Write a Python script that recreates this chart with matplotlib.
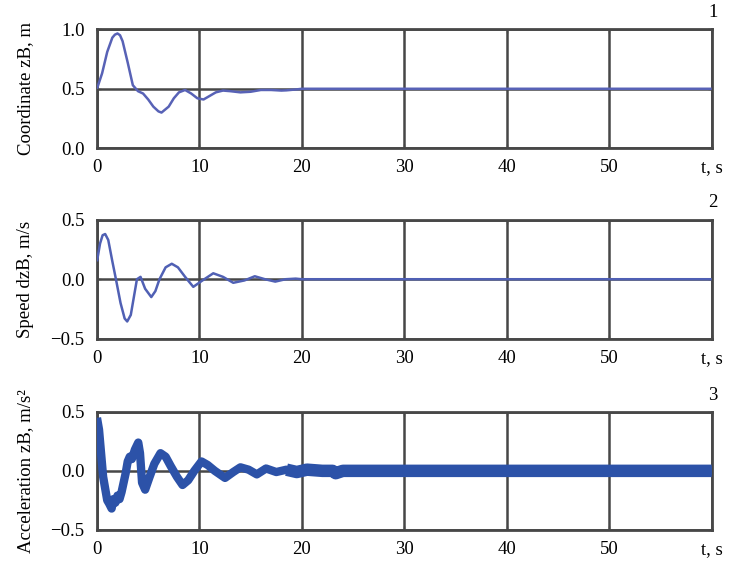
import matplotlib.pyplot as plt

plt.rcParams['font.family'] = ['Liberation Serif', 'DejaVu Serif']

# Coordinate zB (panel 1)
t1 = [0, 0.5, 1.0, 1.5, 1.75, 2.0, 2.25, 2.5, 3.0, 3.5, 4.0, 4.5, 5.0, 5.5, 6.0, 6.3,
      7.0, 7.5, 8.0, 8.6, 9.2, 9.8, 10.4, 11.0, 11.6, 12.3, 13.0, 14.0, 15.0, 16.0,
      17.0, 18.0, 18.5, 19.5, 20.0, 60.0]
z1 = [0.50, 0.63, 0.81, 0.93, 0.955, 0.965, 0.95, 0.90, 0.72, 0.53, 0.48, 0.46, 0.41,
      0.35, 0.31, 0.30, 0.35, 0.42, 0.47, 0.49, 0.46, 0.42, 0.41, 0.44, 0.47, 0.485,
      0.48, 0.47, 0.475, 0.49, 0.49, 0.485, 0.487, 0.495, 0.50, 0.50]

# Speed dzB (panel 2)
t2 = [0, 0.3, 0.55, 0.8, 1.1, 1.5, 1.85, 2.3, 2.7, 2.95, 3.3, 3.9, 4.25, 4.7, 5.3,
      5.7, 6.1, 6.7, 7.3, 7.9, 8.6, 9.4, 10.3, 11.35, 12.3, 13.3, 14.4, 15.4, 16.4,
      17.4, 18.4, 19.4, 20.0, 60.0]
v2 = [0.15, 0.30, 0.37, 0.38, 0.33, 0.15, 0.00, -0.20, -0.33, -0.355, -0.30, 0.00,
      0.02, -0.08, -0.15, -0.10, 0.00, 0.10, 0.13, 0.10, 0.02, -0.064, -0.01, 0.05,
      0.02, -0.03, -0.01, 0.025, 0.00, -0.02, 0.00, 0.005, 0.0, 0.0]

# Acceleration zB (panel 3)
t3 = [0, 0.2, 0.35, 0.45, 0.6, 0.8, 1.0, 1.2, 1.43, 1.6, 1.8, 2.0, 2.2, 2.4, 2.6,
      2.8, 3.0, 3.2, 3.4, 3.7, 4.03, 4.2, 4.4, 4.7, 5.1, 5.6, 6.2, 6.7, 7.2, 7.8,
      8.35, 8.9, 9.5, 10.2, 10.8, 11.5, 12.5, 13.3, 14.0, 14.8, 15.6, 16.5, 17.5,
      18.5, 19.5, 20.5, 22.0, 23.0, 23.3, 24.0, 25.0, 26.0, 28.0, 30.0, 60.0]
a3 = [0.45, 0.35, 0.20, 0.10, -0.05, -0.15, -0.25, -0.28, -0.32, -0.24, -0.27, -0.21,
      -0.24, -0.18, -0.10, -0.02, 0.08, 0.12, 0.10, 0.18, 0.24, 0.15, -0.10, -0.16,
      -0.06, 0.06, 0.15, 0.12, 0.04, -0.05, -0.12, -0.08, 0.00, 0.08, 0.05, 0.00,
      -0.06, -0.01, 0.03, 0.01, -0.03, 0.02, -0.01, 0.01, -0.01, 0.01, 0.00, 0.00,
      -0.02, 0.00, 0.00, 0.00, 0.00, 0.00, 0.00]
tail_from = 18.0  # noisy band gets wider after this time

xticks = [0, 10, 20, 30, 40, 50, 60]
xticklabels = ['0', '10', '20', '30', '40', '50', 't, s']

panels = [
    (t1, z1, 'Coordinate zB, m', [0.0, 0.5, 1.0], (0.0, 1.0), '1', '#5862b6', 1.8),
    (t2, v2, 'Speed dzB, m/s', [-0.5, 0.0, 0.5], (-0.5, 0.5), '2', '#5060b4', 1.8),
    (t3, a3, 'Acceleration zB, m/s²', [-0.5, 0.0, 0.5], (-0.5, 0.5), '3', '#2c52a8', 6.0),
]
# axes boxes in figure fractions (left, bottom, width, height)
boxes = [
    [0.130, 0.747, 0.824, 0.203],
    [0.130, 0.422, 0.824, 0.203],
    [0.130, 0.096, 0.824, 0.201],
]

fig = plt.figure(figsize=(7.46, 5.86), dpi=100)
gcol = '#474747'

for i, ((t, y, label, yt, ylim, num, col, lw), box) in enumerate(zip(panels, boxes)):
    ax = fig.add_axes(box)
    ax.plot(t, y, color=col, linewidth=lw, solid_capstyle='butt', zorder=3)
    if i == 2:
        tt = [a for a in t if a >= tail_from]
        yy = [b for a, b in zip(t, y) if a >= tail_from]
        ax.plot(tt, yy, color=col, linewidth=9.0, solid_capstyle='butt', zorder=3)
    ax.set_xlim(0, 60)
    ax.set_ylim(*ylim)
    ax.set_xticks(xticks)
    ax.set_xticklabels(xticklabels)
    ax.set_yticks(yt)
    ax.set_yticklabels([f'{v:.1f}'.replace('-', '\u2212') for v in yt])
    ax.grid(True, color=gcol, linewidth=1.8)
    ax.set_axisbelow(True)
    for s in ax.spines.values():
        s.set_color(gcol)
        s.set_linewidth(2.0)
    ax.tick_params(axis='both', direction='in', length=3, width=1, color=gcol,
                   labelsize=13.5, top=True, right=True)
    ax.tick_params(axis='x', pad=8)
    ax.tick_params(axis='y', pad=9)
    ax.set_ylabel(label, fontsize=13.5)
    ax.yaxis.set_label_coords(-0.102, 0.5)
    ax.annotate(num, xy=(1.0, 1.0), xycoords='axes fraction', xytext=(1, 6),
                textcoords='offset points', ha='center', va='bottom', fontsize=13.5)

fig.savefig('out.png', dpi=100)
